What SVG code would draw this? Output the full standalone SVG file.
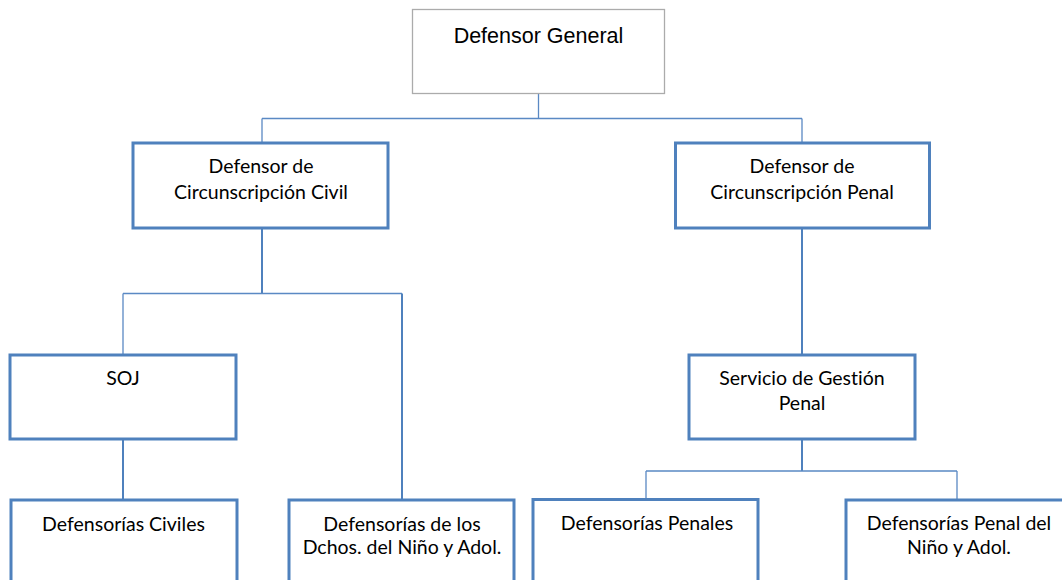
<svg xmlns="http://www.w3.org/2000/svg" width="1062" height="580" viewBox="0 0 1062 580">
<style>
.box{fill:#fff;stroke:#4f81bd;stroke-width:3}
.top{fill:#fff;stroke:#ababab;stroke-width:1.3}
.c{fill:none;stroke:#4f81bd;stroke-width:2}
.t{fill:none;stroke:#5a89c4;stroke-width:1.3}
.lbl{font-family:Lato,"Open Sans",sans-serif;font-size:19.5px;fill:#000;text-anchor:middle;font-variant-ligatures:none}
.lblA{font-family:"Liberation Sans",Arial,sans-serif;font-size:21.5px;fill:#000;text-anchor:middle}
</style>
<rect width="1062" height="580" fill="#fff"/>
<g id="connectors">
<path class="t" d="M538.5 93V118.5M262 118.5H802M262 118.5V143M802 118.5V143"/>
<path class="c" d="M262 228V293.5"/>
<path class="t" d="M123 293.5H402M123 293.5V355"/>
<path class="c" d="M402 293.5V500"/>
<path class="c" d="M123 439V500"/>
<path class="c" d="M802 228V355"/>
<path class="c" d="M802 439V471"/>
<path class="t" d="M646 471H957M646 471V499.5M957 471V500"/>
</g>
<g id="n-general">
<rect class="top" x="412.5" y="9.5" width="252" height="84"/>
<text class="lblA" x="538.5" y="43">Defensor General</text>
</g>
<g id="n-civil">
<rect class="box" x="133" y="143" width="255" height="85"/>
<text class="lbl" x="261" y="173">Defensor de</text>
<text class="lbl" x="261" y="199">Circunscripción Civil</text>
</g>
<g id="n-penal">
<rect class="box" x="675.5" y="143" width="254" height="85"/>
<text class="lbl" x="802" y="173">Defensor de</text>
<text class="lbl" x="802" y="199">Circunscripción Penal</text>
</g>
<g id="n-soj">
<rect class="box" x="10" y="355" width="226" height="84"/>
<text class="lbl" x="123" y="385">SOJ</text>
</g>
<g id="n-servicio">
<rect class="box" x="689" y="355" width="226" height="84"/>
<text class="lbl" x="802" y="385">Servicio de Gestión</text>
<text class="lbl" x="802" y="410">Penal</text>
</g>
<g id="n-def-civiles">
<rect class="box" x="11" y="500" width="226" height="100"/>
<text class="lbl" x="123.5" y="530.5">Defensorías Civiles</text>
</g>
<g id="n-def-dchos">
<rect class="box" x="289" y="500" width="225" height="100"/>
<text class="lbl" x="402" y="530.5">Defensorías de los</text>
<text class="lbl" x="402" y="554">Dchos. del Niño y Adol.</text>
</g>
<g id="n-def-penales">
<rect class="box" x="533" y="499.5" width="225" height="100"/>
<text class="lbl" x="647" y="530">Defensorías Penales</text>
</g>
<g id="n-def-penal-nino">
<rect class="box" x="846" y="500" width="225" height="100"/>
<text class="lbl" x="959" y="530">Defensorías Penal del</text>
<text class="lbl" x="959" y="554">Niño y Adol.</text>
</g>
</svg>
